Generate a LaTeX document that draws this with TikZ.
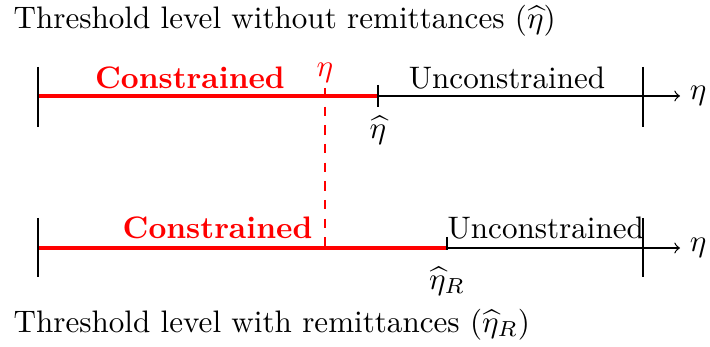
\documentclass[tikz,border=0pt]{standalone}
\usepackage{amsmath}
\begin{document}
\begin{tikzpicture}[x=0.0113cm,y=-0.0113cm,
  axisline/.style={line width=0.4pt,->},
  tickline/.style={line width=0.4pt},
  redseg/.style={red,line width=1.1pt},
  reddash/.style={red,line width=0.45pt,dashed},
  lbl/.style={inner sep=0pt,anchor=base},
  redlbl/.style={lbl,red,font=\bfseries}]
\useasboundingbox (0,0) rectangle (710,347);
% titles
\node[inner sep=0pt,anchor=base west] (t1) at (13,29) {Threshold level without remittances ($\widehat{\eta}$)};
\node[inner sep=0pt,anchor=base west] (t2) at (13,332) {Threshold level with remittances ($\widehat{\eta}_R$)};
% top axis
\coordinate (a0) at (38,96);
\coordinate (a1) at (680,96);
\coordinate (h1) at (378,96);
\draw[axisline] (a0) -- (a1);
\draw[redseg] (a0) -- (h1);
\draw[tickline] (38,67) coordinate (l1a) -- (38,127) coordinate (l1b);
\draw[tickline] (643,67) coordinate (r1a) -- (643,127) coordinate (r1b);
\draw[tickline] (378,85) coordinate (h1a) -- (378,107) coordinate (h1b);
\node[anchor=west,inner sep=3pt] (e1) at (a1) {$\eta$};
\node[redlbl] (c1) at (190,89) {Constrained};
\node[lbl] (u1) at (507,89) {Unconstrained};
\node[anchor=north,inner sep=0pt] (hl1) at (378,115) {$\widehat{\eta}$};
% bottom axis
\coordinate (b0) at (38,248);
\coordinate (b1) at (680,248);
\coordinate (h2) at (447,248);
\draw[axisline] (b0) -- (b1);
\draw[redseg] (b0) -- (h2);
\draw[tickline] (38,218) coordinate (l2a) -- (38,277) coordinate (l2b);
\draw[tickline] (643,218) coordinate (r2a) -- (643,277) coordinate (r2b);
\draw[tickline] (447,237) coordinate (h2a) -- (447,250) coordinate (h2b);
\node[anchor=west,inner sep=3pt] (e2) at (b1) {$\eta$};
\node[redlbl,anchor=base east] (c2) at (313,239) {Constrained};
\node[lbl,anchor=base west] (u2) at (447,239) {Unconstrained};
\node[anchor=north,inner sep=0pt] (hl2) at (447,266) {$\widehat{\eta}_R$};
% dashed eta
\node[lbl,red] (eta) at (325,77) {$\eta$};
\coordinate (d0) at (325,88);
\coordinate (d1) at (325,254);
\draw[reddash] (d0) -- (d1);
\end{tikzpicture}
\end{document}
